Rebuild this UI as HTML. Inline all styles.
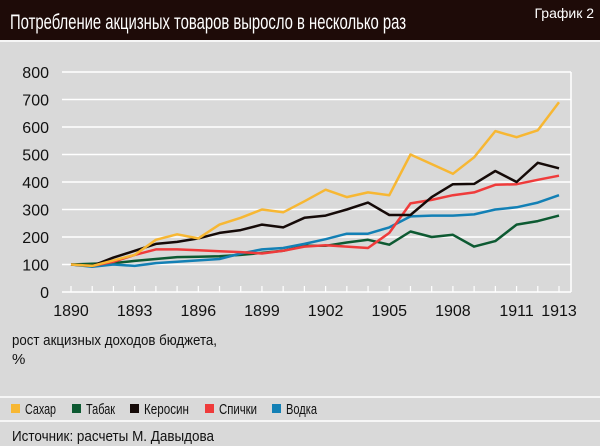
<!DOCTYPE html>
<html><head><meta charset="utf-8"><style>
body{margin:0;background:#d9d9d9;}
svg{display:block;font-family:"Liberation Sans Narrow","Liberation Sans",sans-serif;}
</style></head><body>
<svg width="600" height="446">
<rect x="0" y="0" width="600" height="446" fill="#d9d9d9"/>
<rect x="0" y="0" width="600" height="40" fill="#1e0b08"/>
<line x1="0" y1="41" x2="600" y2="41" stroke="#fff" stroke-width="1.5"/>
<text x="10" y="29" fill="#fff" font-size="21" textLength="396" lengthAdjust="spacingAndGlyphs">Потребление акцизных товаров выросло в несколько раз</text>
<text x="594" y="18" fill="#fff" font-size="14" text-anchor="end">График 2</text>
<g id="grid"></g>
<g id="lines"></g>
<text x="12" y="345" font-size="15" fill="#111" textLength="205" lengthAdjust="spacingAndGlyphs">рост акцизных доходов бюджета,</text>
<text x="12" y="364" font-size="15" fill="#111">%</text>
<line x1="0" y1="397" x2="600" y2="397" stroke="#fff" stroke-width="1.5"/>
<line x1="0" y1="421" x2="600" y2="421" stroke="#fff" stroke-width="1.5"/>
<g id="legend"></g>
<text x="12" y="441" font-size="15" fill="#111" textLength="202" lengthAdjust="spacingAndGlyphs">Источник: расчеты М. Давыдова</text>
</svg>
<script>
const years=[1890,1891,1892,1893,1894,1895,1896,1897,1898,1899,1900,1901,1902,1903,1904,1905,1906,1907,1908,1909,1910,1911,1912,1913];
const xTicks=[1890,1893,1896,1899,1902,1905,1908,1911,1913];
const yTicks=[0,100,200,300,400,500,600,700,800];
const seriesNames=["Сахар","Табак","Керосин","Спички","Водка"];
const seriesColors=["#f7b733","#0d5a32","#150a08","#ef3b3b","#1380b5"];
const sugar=[100,95,115,135,190,210,195,245,270,300,290,330,372,345,362,352,500,465,430,490,585,563,588,690];
const tobacco=[100,103,105,113,120,127,128,130,135,142,150,168,168,180,190,172,220,200,208,165,185,245,258,278];
const kerosene=[100,95,125,150,175,182,195,215,225,245,235,270,278,300,325,280,280,345,392,393,440,400,470,450];
const matches=[100,95,110,135,155,155,152,148,145,140,150,165,170,165,160,215,322,335,352,362,390,392,408,423];
const vodka=[100,92,100,95,105,110,115,120,140,155,160,175,192,212,212,235,275,278,278,282,300,308,325,352];
const allSeries=[sugar,tobacco,kerosene,matches,vodka];
const NS="http://www.w3.org/2000/svg";
const x0=71,x1=559,y0=292,y1=72,pl=62,pr=571;
const X=y=>x0+(y-1890)/(1913-1890)*(x1-x0);
const Y=v=>y0-v/800*(y0-y1);
function mk(t,a,p){const e=document.createElementNS(NS,t);for(const k in a)e.setAttribute(k,a[k]);p.appendChild(e);return e;}
const grid=document.getElementById('grid');
yTicks.forEach(v=>{
 const l=mk('line',{x1:pl,x2:pr,y1:Y(v),y2:Y(v),stroke:'#fff','stroke-width':1.5},grid);
 
 
 const t=mk('text',{x:49,y:Y(v)+6,'font-size':16,'text-anchor':'end',fill:'#111'},grid);t.textContent=v;
 
 
});
const vl=mk('line',{x1:pr,x2:pr,y1:y1,y2:y0,stroke:'#fff','stroke-width':1.5},grid);


years.forEach(y=>{
 const l=mk('line',{x1:X(y),x2:X(y),y1:y0,y2:y0-6,stroke:'#fff','stroke-width':1.2},grid);
 
 
});
xTicks.forEach(y=>{
 const t=mk('text',{x:X(y),y:316,'font-size':16,'text-anchor':'middle',fill:'#111'},grid);t.textContent=y;
 
 
});
const lines=document.getElementById('lines');
[1,4,3,2,0].forEach(i=>{
 const d=allSeries[i].map((v,j)=>(j?'L':'M')+X(years[j]).toFixed(1)+','+Y(v).toFixed(1)).join(' ');
 const p=mk('path',{d:d,fill:'none',stroke:seriesColors[i],'stroke-width':2.5,'stroke-linejoin':'round'},lines);
 
 
});
const lg=document.getElementById('legend');
const lx=[11,82,148,233,310];
const lw=[31,29,45,38,31];
const lxs=[11,72,130,205,272];
seriesNames.forEach((n,i)=>{
 const g=mk('g',{},lg);
 
 
 mk('rect',{x:lxs[i],y:404,width:9,height:9,fill:seriesColors[i]},g);
 const t=mk('text',{x:lxs[i]+14,y:414,'font-size':15,fill:'#111',textLength:lw[i],lengthAdjust:'spacingAndGlyphs'},g);t.textContent=n;
});
</script>
</body></html>
